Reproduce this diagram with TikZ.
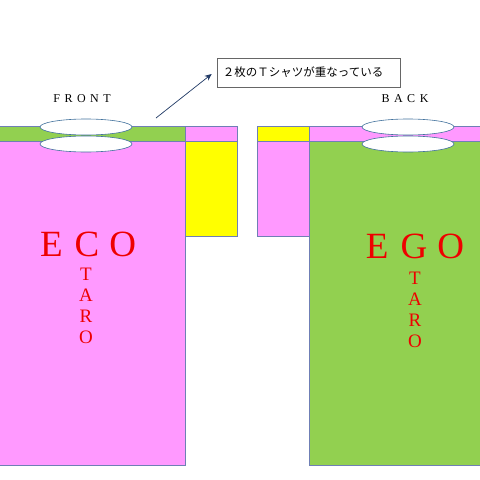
\documentclass[tikz,border=0pt]{standalone}
\usepackage{fontspec}
\setmainfont{Liberation Serif}
\newfontfamily\jpfont{Noto Sans CJK JP}
\usetikzlibrary{arrows.meta,shapes.geometric}
\definecolor{pinkc}{HTML}{FF99FF}
\definecolor{greenc}{HTML}{92D050}
\definecolor{yellowc}{HTML}{FFFF00}
\definecolor{edgec}{HTML}{6F7FB5}
\definecolor{ellc}{HTML}{41719C}
\definecolor{arrc}{HTML}{1F3864}
\definecolor{redc}{HTML}{EE0000}
\tikzset{
  part/.style={draw=edgec, line width=0.6pt},
  collar/.style={draw=ellc, fill=white, line width=0.6pt, ellipse, minimum width=92pt, minimum height=16pt, inner sep=0pt},
  bigword/.style={text=redc, font=\fontsize{37}{37}\selectfont, inner sep=0pt},
  vword/.style={text=redc, font=\fontsize{19}{20}\selectfont, inner sep=0pt, align=center},
  label/.style={font=\fontsize{12}{12}\selectfont, inner sep=0pt},
}
\begin{document}
\begin{tikzpicture}[x=1pt,y=-1pt]
\useasboundingbox (0,0) rectangle (480,480);
% left shirt (front)
\path[part, fill=greenc] (-2,126) rectangle (185,141);
\path[part, fill=pinkc] (-2,141) rectangle (185,465);
\path[part, fill=pinkc] (185,126) rectangle (237,141);
\path[part, fill=yellowc] (185,141) rectangle (237,236);
\node[collar] (e1) at (86,127) {};
\node[collar] (e2) at (86,144) {};
% right shirt (back)
\path[part, fill=yellowc] (257,126) rectangle (309,141);
\path[part, fill=pinkc] (257,141) rectangle (309,236);
\path[part, fill=pinkc] (309,126) rectangle (482,141);
\path[part, fill=greenc] (309,141) rectangle (482,465);
\node[collar] (e3) at (408,127) {};
\node[collar] (e4) at (408,144) {};
% labels
\node[label] (front) at (82,99) {F\hspace{4.5pt}R\hspace{4.5pt}O\hspace{4.5pt}N\hspace{4.5pt}T};
\node[label] (back) at (405,99) {B\hspace{4.5pt}A\hspace{4.5pt}C\hspace{4.5pt}K};
\node[draw=gray!80!black, line width=0.6pt, minimum width=183pt, minimum height=29pt, inner sep=0pt] (note) at (308.5,72.5) {};
\node[font=\jpfont\fontsize{11.5}{11.5}\selectfont, inner sep=0pt, anchor=west] (notetext) at ([xshift=6pt]note.west) {２枚のＴシャツが重なっている};
\coordinate (astart) at (156,118);
\draw[arrc, line width=0.7pt, -{Stealth[length=7pt,width=6pt]}] (astart) -- ([xshift=-5pt,yshift=-1.5pt]note.west);
% words
\node[bigword] (eco) at (88,244) {E\hspace{12pt}C\hspace{10pt}O};
\node[vword] (taro1) at (86,306) {T\\[1pt]A\\[1pt]R\\[1pt]O};
\node[bigword] (ego) at (415,246) {E\hspace{12pt}G\hspace{10pt}O};
\node[vword] (taro2) at (415,310) {T\\[1pt]A\\[1pt]R\\[1pt]O};
\end{tikzpicture}
\end{document}
